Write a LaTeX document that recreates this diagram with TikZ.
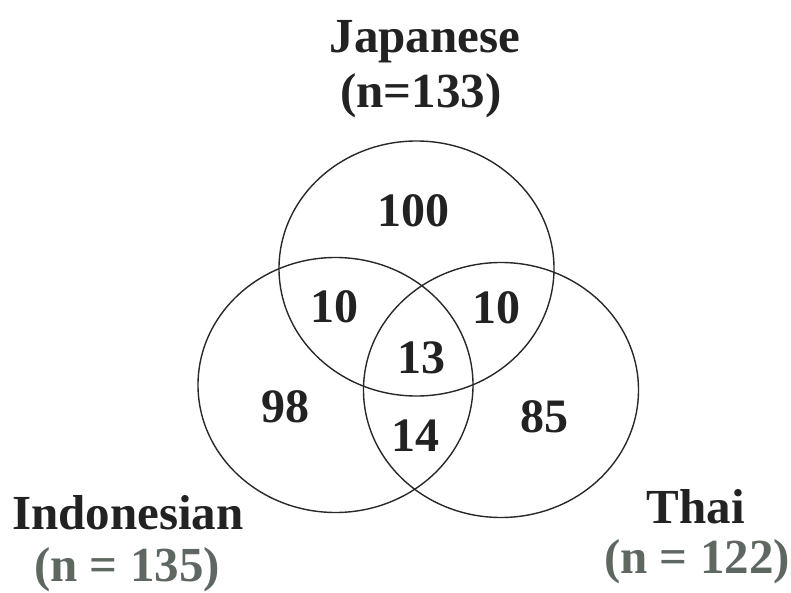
\documentclass[tikz,border=0pt]{standalone}
\usepackage{fontspec}
\setmainfont{Liberation Serif}
\usepackage{tikz}
\usetikzlibrary{shapes.geometric}
\definecolor{inkDark}{RGB}{34,34,34}
\definecolor{nGray}{RGB}{94,104,96}
\definecolor{ringGray}{RGB}{40,40,40}

\begin{document}
\begin{tikzpicture}[
  x=1pt, y=-1pt,
  ring/.style={draw=ringGray, line width=1.4pt, ellipse, inner sep=0pt,
    minimum width=275pt, minimum height=255pt},
  num/.style={font=\fontsize{48}{50}\selectfont\bfseries, text=inkDark, anchor=base, inner sep=0pt},
  lbl/.style={font=\fontsize{49}{52}\selectfont\bfseries, text=inkDark, anchor=base, inner sep=0pt},
  cnt/.style={lbl, text=nGray},
]
  \useasboundingbox (0,0) rectangle (791,593);
  % the three sets
  \node[ring] (japan) at (416.5,268.5) {};
  \node[ring] (indo)  at (335.5,385) {};
  \node[ring] (thai)  at (501,390) {};
  % region counts
  \node[num] (jOnly)  at (413,227) {100};
  \node[num] (jiBoth) at (334,322) {10};
  \node[num] (jtBoth) at (496,323) {10};
  \node[num] (allThree) at (421,373) {13};
  \node[num] (iOnly)  at (285,422) {98};
  \node[num] (itBoth) at (415,451) {14};
  \node[num] (tOnly)  at (544,432) {85};
  % set names
  \node[lbl] (jName) at (425,53) {Japanese};
  \node[lbl] (jSize) at (421,108) {(n=133)};
  \node[lbl] (iName) at (128,529) {Indonesian};
  \node[cnt] (iSize) at (127,581) {(n = 135)};
  \node[lbl] (tName) at (696,523) {Thai};
  \node[cnt] (tSize) at (697,573) {(n = 122)};
\end{tikzpicture}
\end{document}
